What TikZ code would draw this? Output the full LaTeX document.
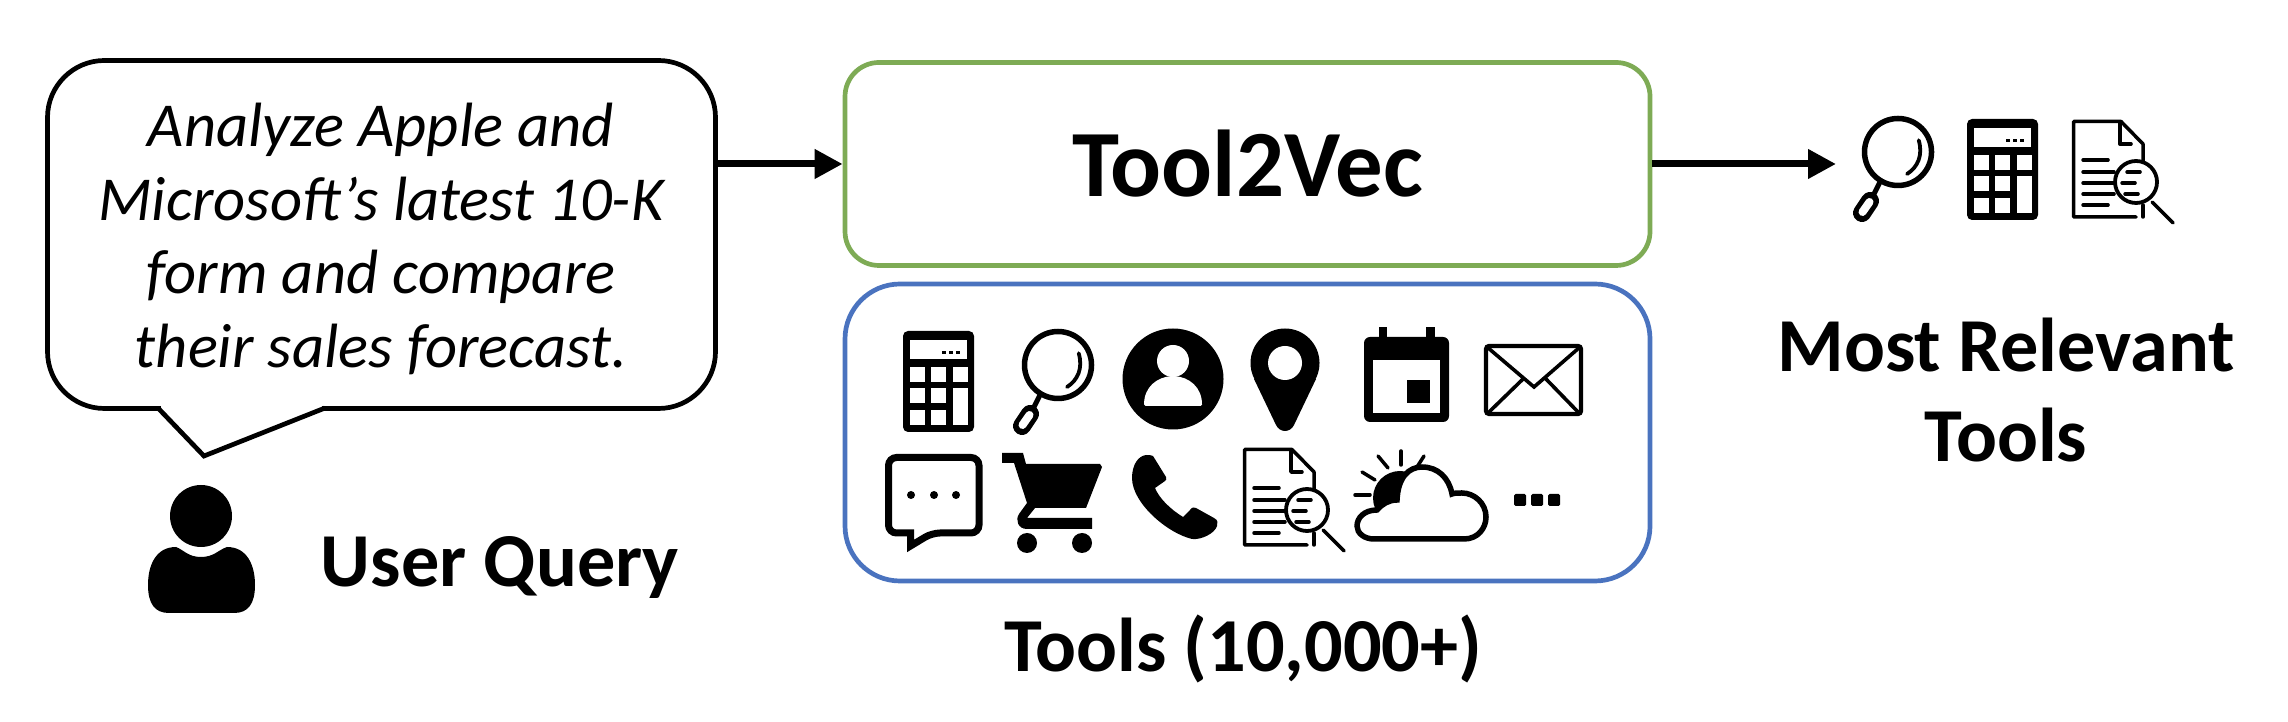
\documentclass[tikz,border=0pt]{standalone}
\usepackage{fontspec}
\setmainfont{Carlito}
\usetikzlibrary{arrows.meta}

\begin{document}
\begin{tikzpicture}[x=0.1mm, y=-0.1mm]

% =======================================================
% Colors and layout parameters
% =======================================================
\definecolor{cencoder}{HTML}{7EAB55}   % Tool2Vec box
\definecolor{ctools}{HTML}{4A73BF}     % tool collection box

\def\px{0.1mm}     % one pixel of the layout

\useasboundingbox (0,0) rectangle (2288,722);

% =======================================================
% Styles
% =======================================================
\tikzset{
  flowarrow/.style = {line width=0.7mm, -{Triangle[length=2.8mm, width=2.8mm]}},
  bubble/.style = {draw, line width=0.47mm, rounded corners=5.7mm, inner sep=0,
    minimum width=668*\px, minimum height=348*\px},
  roundbox/.style = {draw, line width=0.47mm, inner sep=0, minimum width=805*\px},
  biglabel/.style = {font=\fontsize{21.7}{25.4}\selectfont\bfseries, align=center, inner sep=0},
  thinstroke/.style = {line width=0.35mm, line cap=round, line join=round},
}

% =======================================================
% Icons (origin at the top-left, magnifier and pin at their centre)
% =======================================================
\tikzset{
  calcicon/.pic = {
    \fill[rounded corners=0.5mm] (0,0) rectangle (71,101);
    \fill[white] (7,9) rectangle (64,28);
    \foreach \dotx in {41,48,55} \fill (\dotx-1.7,19.8) rectangle (\dotx+1.7,23.2);
    \foreach \keyx in {7,28,50} \fill[white] (\keyx,36) rectangle (\keyx+14.5,51);
    \foreach \keyx in {7,28} {
      \fill[white] (\keyx,57) rectangle (\keyx+14.5,72);
      \fill[white] (\keyx,79) rectangle (\keyx+14.5,94);
    }
    \fill[white] (50,57) rectangle (64.5,94);
  },
  magicon/.pic = {
    \draw[line width=0.55mm] (0,0) circle[radius=33.5];
    \draw[line width=0.38mm, line cap=round]
      (20.7,-11.7) .. controls (25,3) and (20,15) .. (9,22);
    \draw[line width=0.5mm] (-18,30) -- (-25,44);
    \draw[line width=1.8mm, line cap=round] (-28,49) -- (-36,61);
    \draw[white, line width=0.8mm, line cap=round] (-28.5,50) -- (-35.5,60);
  },
  usericon/.pic = {
    \fill (0,0) circle[radius=50.5];
    \fill[white] (0,-18) circle[radius=16];
    \fill[white, rounded corners=0.15mm] (-29,27) .. controls (-29,8) and (-16,-2) .. (0,-3)
      .. controls (16,-2) and (29,8) .. (29,27) -- cycle;
  },
  pinicon/.pic = {
    \fill (0,0) circle[radius=34.5];
    \fill (-31,16) -- (-9,62) .. controls (-5,70) and (5,70) .. (9,62) -- (31,16) -- cycle;
    \fill[white] (0,0) circle[radius=17];
  },
  calendaricon/.pic = {
    \fill (15,0) rectangle (23,12);
    \fill (62,0) rectangle (71,12);
    \fill[rounded corners=0.6mm] (0,10) rectangle (85,95);
    \fill[white] (9,33) rectangle (76,86);
    \fill (43,53) rectangle (66,76);
  },
  mailicon/.pic = {
    \draw[line width=0.42mm, rounded corners=0.3mm] (2,2) rectangle (97,70);
    \draw[line width=0.36mm] (3,3) -- (50,43) -- (96,3);
    \draw[line width=0.36mm] (4,69) -- (39,35);
    \draw[line width=0.36mm] (61,34) -- (95,69);
  },
  docicon/.pic = {
    \draw[thinstroke] (64,97) -- (1.5,97) -- (1.5,1.5) -- (49,1.5) -- (71,24) -- (71,42);
    \draw[thinstroke] (48,3) -- (48,24) -- (59,24);
    \draw[thinstroke] (71,85) -- (71,97);
    \draw[thinstroke] (11,40) -- (36,40);
    \foreach \liney in {52,63,74} \draw[thinstroke] (11,\liney) -- (42,\liney);
    \draw[thinstroke] (11,85) -- (36,85);
    \draw[line width=0.38mm] (64,62) circle[radius=21];
    \draw[thinstroke] (55,52) -- (68,52);
    \draw[thinstroke] (50,63) -- (63,63);
    \draw[thinstroke] (53,74) -- (66,74);
    \draw[thinstroke] (80,82) -- (101,103);
  },
  chaticon/.pic = {
    \draw[line width=0.7mm] (25.5,79) [rounded corners=0.8mm] -- (3.5,79) -- (3.5,3.5)
      -- (94,3.5) -- (94,79) -- (47,79) [sharp corners] -- (25.5,92) -- cycle;
    \foreach \dotx in {26,49,71} \fill (\dotx,41) circle[radius=4];
  },
  carticon/.pic = {
    \fill (0,0) -- (21,0) -- (24,11) -- (98,11) -- (100,14) -- (84,55) -- (33,55)
      -- (25,65) -- (90,65) -- (90,76) -- (25,76) .. controls (16,76) and (13,67) .. (17,61)
      -- (25,50) -- (12,10) -- (0,10) -- cycle;
    \fill (25,90) circle[radius=10];
    \fill (80,90) circle[radius=10];
  },
  phoneicon/.pic = {
    \fill (21,1) -- (34,22) .. controls (35,24) and (34,25) .. (33,26) -- (23,33)
      .. controls (27,43) and (38,54) .. (51,62) -- (58,55) .. controls (60,52) and (62,52) .. (64,53)
      -- (82,63) .. controls (86,65) and (86,68) .. (85,71)
      .. controls (83,78) and (70,85) .. (60,84)
      .. controls (35,78) and (0,48) .. (0,23) .. controls (0,10) and (6,1) .. (14,0)
      .. controls (17,0) and (19,0) .. (21,1) -- cycle;
  },
  cloudicon/.pic = {
    \draw[thinstroke] (1,45) -- (16,45);
    \draw[thinstroke] (8,22) -- (21,30);
    \draw[thinstroke] (24,6) -- (34,18);
    \draw[thinstroke] (47,1) -- (47,15);
    \draw[thinstroke] (70,6) -- (63,17);
    \fill (46,48) circle[radius=27];
    \draw[fill=white, line width=0.55mm] (20,89) -- (110,89)
      .. controls (124,89) and (132,78) .. (132,67)
      .. controls (132,53) and (120,43) .. (108,43)
      .. controls (104,43) and (100,43) .. (98,44)
      .. controls (95,28) and (84,17) .. (68,17)
      .. controls (55,17) and (44,27) .. (43,50)
      .. controls (35,50) and (28,54) .. (23,60)
      .. controls (10,60) and (3,68) .. (3,76)
      .. controls (3,83) and (10,89) .. (20,89) -- cycle;
  },
}

% =======================================================
% Left side: query bubble and user
% =======================================================
\node[bubble] (query) at (381.5,234.5) {};
\node[font=\fontsize{17.8}{21}\selectfont\itshape, align=center, inner sep=0] (querytext) at (381,239)
    {Analyze Apple and\\
     Microsoft’s latest 10-K\\
     form and compare\\
     their sales forecast.};

% bubble tail
\fill[white] (161,412) rectangle (322,402);
\draw[line width=0.47mm, line join=miter] (158,408) -- (204,456) -- (325,408);

% user figure
\fill (201,516) circle[radius=31];
\fill (148,585) .. controls (148,565) and (156,547) .. (176,547)
    .. controls (184,550) and (188,557) .. (201,557)
    .. controls (214,557) and (218,550) .. (227,547)
    .. controls (247,547) and (255,565) .. (255,585)
    .. controls (255,604) and (248,613) .. (234,613)
    -- (169,613) .. controls (155,613) and (148,604) .. (148,585) -- cycle;

\node[biglabel, anchor=center] (userlabel) at (500,567) {User Query};

% =======================================================
% Centre: Tool2Vec and the tool collection
% =======================================================
\node[roundbox, cencoder, rounded corners=3.4mm, minimum height=203*\px] (encoder) at (1247.5,164)
    {};
\node[font=\fontsize{27}{32}\selectfont\bfseries, inner sep=0] (encodertext) at (encoder) {Tool2Vec};

\node[roundbox, ctools, rounded corners=5.5mm, minimum height=297*\px] (toolbox) at (1247.5,432.5) {};

\pic at (903,331) {calcicon};
\pic at (1058,365) {magicon};
\pic at (1173,379) {usericon};
\pic at (1285,363) {pinicon};
\pic at (1364,327) {calendaricon};
\pic at (1484,344) {mailicon};
\pic at (885,454) {chaticon};
\pic at (1002,453) {carticon};
\pic at (1132,455) {phoneicon};
\pic at (1243,448) {docicon};
\pic at (1354,450) {cloudicon};
\foreach \dotx in {1520,1537,1554}
  \fill[rounded corners=0.15mm] (\dotx-6,494) rectangle (\dotx+6,506);

\node[biglabel] (toolslabel) at (1243,649) {Tools (10,000+)};

% =======================================================
% Right side: selected tools
% =======================================================
\coordinate (selected) at (1836,164);

\pic at (1898,152) {magicon};
\pic at (1967,119) {calcicon};
\pic at (2072,120) {docicon};

\node[biglabel] (selectedlabel) at (2006,390) {Most Relevant\\Tools};

% =======================================================
% Connectors
% =======================================================
\draw[flowarrow] (query.east |- encoder.west) -- (encoder.west);
\draw[flowarrow] (encoder.east) -- (selected);

\end{tikzpicture}
\end{document}
